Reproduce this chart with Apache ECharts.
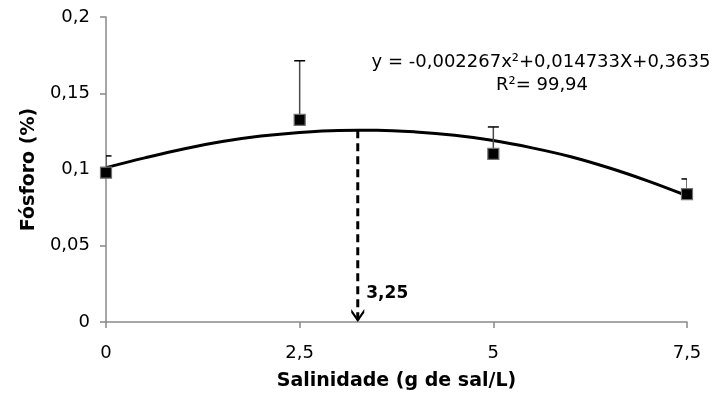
<!DOCTYPE html>
<html>
<head>
<meta charset="utf-8">
<script src="https://cdn.jsdelivr.net/npm/echarts@6/dist/echarts.min.js"></script>
<style>
  html, body { margin: 0; padding: 0; background: #fff; }
  #chart { width: 714px; height: 398px; }
</style>
</head>
<body>
<div id="chart"></div>
<script>
// Salinity levels (g de sal/L) and measured phosphorus (%)
const salinity = [0, 2.5, 5, 7.5];
const phosphorus = [0.0979, 0.1325, 0.1102, 0.0839];
// Upper end of each error bar
const phosphorusUpper = [0.1089, 0.1713, 0.1279, 0.0938];

// Fitted quadratic trend, sampled along the x range
const trendX = [0, 0.5, 1, 1.5, 2, 2.5, 3, 3.5, 4, 4.5, 5, 5.5, 6, 6.5, 7, 7.5];
const trendY = [0.1012, 0.1076, 0.1135, 0.1183, 0.1219, 0.1243, 0.1256, 0.1257,
                0.1246, 0.1224, 0.1190, 0.1142, 0.1084, 0.1010, 0.0924, 0.0828];

// Salinity giving the maximum of the trend
const optimumSalinity = 3.25;
const optimumPhosphorus = 0.1257;
const optimumLabel = '3,25';

// Axis tick labels (comma decimals)
const xTickLabels = ['0', '2,5', '5', '7,5'];
const yTickLabels = ['0', '0,05', '0,1', '0,15', '0,2'];

const equationText = 'y = -0,002267x²+0,014733X+0,3635';
const r2Text = 'R²= 99,94';

const FONT = 'DejaVu Sans';
const chart = echarts.init(document.getElementById('chart'), null, { renderer: 'canvas' });

const axisGray = '#898989';

chart.setOption({
  animation: false,
  backgroundColor: '#ffffff',
  grid: { left: 106, right: 27, top: 17, bottom: 76, containLabel: false },
  xAxis: {
    type: 'value',
    min: 0, max: 7.5, interval: 2.5,
    name: 'Salinidade (g de sal/L)',
    nameLocation: 'middle',
    nameGap: 50,
    nameTextStyle: { fontFamily: FONT, fontWeight: 'bold', fontSize: 19, color: '#000' },
    axisLine: { show: true, lineStyle: { color: axisGray, width: 1.5 } },
    axisTick: { show: true, inside: false, length: 6, lineStyle: { color: axisGray, width: 1.5 } },
    axisLabel: {
      fontFamily: FONT, fontSize: 18, color: '#000', margin: 22,
      formatter: (v, i) => xTickLabels[i]
    },
    splitLine: { show: false }
  },
  yAxis: {
    type: 'value',
    min: 0, max: 0.2, interval: 0.05,
    name: 'Fósforo (%)',
    nameLocation: 'middle',
    nameRotate: 90,
    nameGap: 62,
    nameTextStyle: { fontFamily: FONT, fontWeight: 'bold', fontSize: 19, color: '#000' },
    axisLine: { show: true, lineStyle: { color: axisGray, width: 1.5 } },
    axisTick: { show: true, inside: false, length: 6, lineStyle: { color: axisGray, width: 1.5 } },
    axisLabel: {
      fontFamily: FONT, fontSize: 18, color: '#000', margin: 16,
      formatter: (v, i) => yTickLabels[i]
    },
    splitLine: { show: false }
  },
  graphic: [
    {
      type: 'text', x: 541, y: 62, z: 100,
      style: { text: equationText, fontFamily: FONT, fontSize: 18, fill: '#000', align: 'center', verticalAlign: 'middle' }
    },
    {
      type: 'text', x: 542, y: 85, z: 100,
      style: { text: r2Text, fontFamily: FONT, fontSize: 18, fill: '#000', align: 'center', verticalAlign: 'middle' }
    }
  ],
  series: [
    {
      name: 'trend',
      type: 'line',
      data: trendX.map((x, i) => [x, trendY[i]]),
      smooth: 0.35,
      showSymbol: false,
      silent: true,
      lineStyle: { color: '#000', width: 3 },
      z: 2
    },
    {
      name: 'optimum',
      type: 'line',
      data: [[optimumSalinity, optimumPhosphorus], [optimumSalinity, 0]],
      showSymbol: false,
      silent: true,
      lineStyle: { color: '#000', width: 3, type: [8, 5] },
      z: 3
    },
    {
      name: 'optimumHead',
      type: 'scatter',
      data: [[optimumSalinity, 0]],
      symbol: 'path://M0,0 L6,8.5 L12,0 L12,3.5 L6,12 L0,3.5 Z',
      symbolSize: [13, 13],
      symbolOffset: [0, -6.5],
      silent: true,
      itemStyle: { color: '#000', opacity: 1 },
      label: {
        show: true,
        formatter: optimumLabel,
        position: 'right',
        distance: 2,
        offset: [0, -22],
        fontFamily: FONT, fontWeight: 'bold', fontSize: 17, color: '#000'
      },
      z: 4
    },
    {
      name: 'errorBars',
      type: 'custom',
      clip: true,
      silent: true,
      data: salinity.map((x, i) => [x, phosphorus[i], phosphorusUpper[i]]),
      renderItem: function (params, api) {
        const base = api.coord([api.value(0), api.value(1)]);
        const top = api.coord([api.value(0), api.value(2)]);
        const hw = 5.5;
        return {
          type: 'group',
          children: [
            { type: 'line', shape: { x1: base[0], y1: base[1], x2: top[0], y2: top[1] },
              style: { stroke: '#4a4a4a', lineWidth: 1.5 } },
            { type: 'line', shape: { x1: top[0] - hw, y1: top[1], x2: top[0] + hw, y2: top[1] },
              style: { stroke: '#000', lineWidth: 1.5 } }
          ]
        };
      },
      z: 5
    },
    {
      name: 'Fósforo',
      type: 'scatter',
      data: salinity.map((x, i) => [x, phosphorus[i]]),
      symbol: 'rect',
      symbolSize: 11,
      silent: true,
      itemStyle: { color: '#000', borderColor: '#707070', borderWidth: 1.2, opacity: 1 },
      z: 6
    }
  ]
});
</script>
</body>
</html>
